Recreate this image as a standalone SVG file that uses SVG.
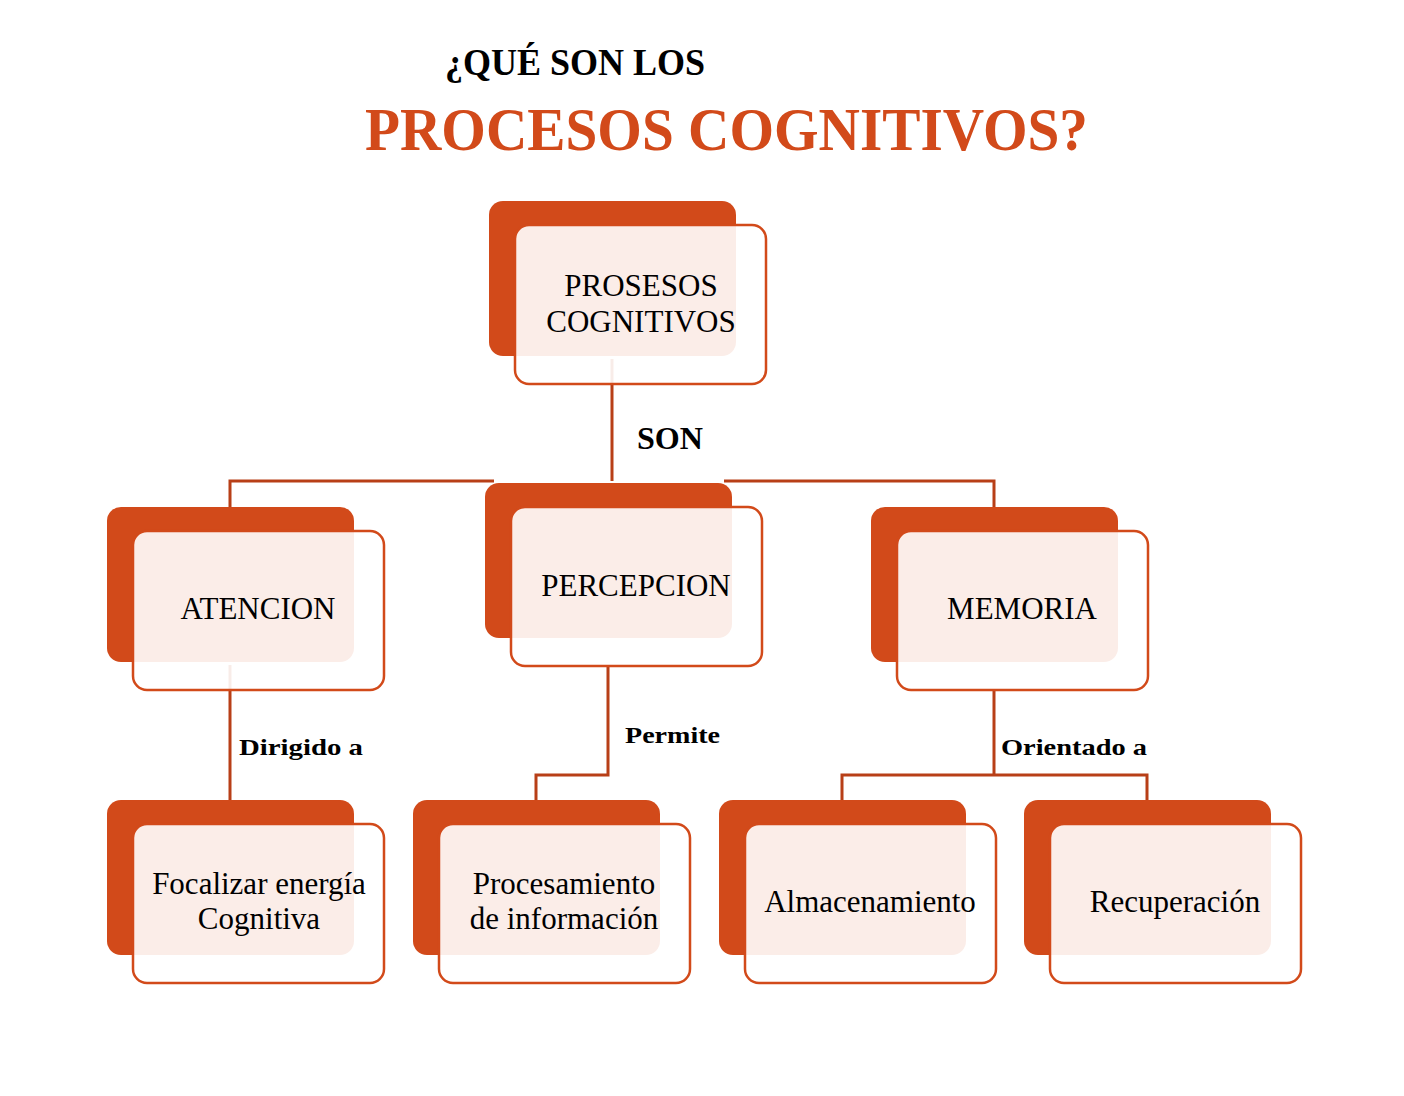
<svg xmlns="http://www.w3.org/2000/svg" width="1404" height="1096" viewBox="0 0 1404 1096">
<style>
.back{fill:#D24A1A}
.front{fill:#FFFFFF;fill-opacity:0.9;stroke:#D24A1A;stroke-width:2.5}
.conn{fill:none;stroke:#B83F17;stroke-width:3}
.lbl{font-family:"Liberation Serif","Times New Roman",serif;font-size:31px;fill:#000;text-anchor:middle}
.clbl{font-family:"Liberation Serif","Times New Roman",serif;font-size:24px;font-weight:bold;fill:#000}
.son{font-size:31px}
</style>
<rect width="1404" height="1096" fill="#FFFFFF"/>
<g id="title">
<text x="445" y="75" font-family="Liberation Serif, serif" font-size="38" font-weight="bold" fill="#000" textLength="260" lengthAdjust="spacingAndGlyphs">¿QUÉ SON LOS</text>
<text x="365" y="150" font-family="Liberation Serif, serif" font-size="62" font-weight="bold" fill="#D24A1A" textLength="723" lengthAdjust="spacingAndGlyphs">PROCESOS COGNITIVOS?</text>
</g>
<g id="connectors">
<line class="conn" x1="612" y1="359" x2="612" y2="481"/>
<polyline class="conn" points="230,507 230,481 494,481"/>
<polyline class="conn" points="724,481 994,481 994,507"/>
<line class="conn" x1="230" y1="665" x2="230" y2="800"/>
<polyline class="conn" points="608,667 608,775 536,775 536,800"/>
<line class="conn" x1="994" y1="691" x2="994" y2="775"/>
<polyline class="conn" points="842,800 842,775 1147,775 1147,800"/>
<text class="clbl son" x="637" y="449" textLength="66" lengthAdjust="spacingAndGlyphs">SON</text>
<text class="clbl" x="239" y="755" textLength="124" lengthAdjust="spacingAndGlyphs">Dirigido a</text>
<text class="clbl" x="625" y="743" textLength="95" lengthAdjust="spacingAndGlyphs">Permite</text>
<text class="clbl" x="1001" y="755" textLength="146" lengthAdjust="spacingAndGlyphs">Orientado a</text>
</g>
<g id="node-root">
<rect class="back" x="489" y="201" width="247" height="155" rx="14"/>
<rect class="front" x="515" y="225" width="251" height="159" rx="14"/>
<text class="lbl" x="641" y="296">PROSESOS</text>
<text class="lbl" x="641" y="332">COGNITIVOS</text>
</g>
<g id="node-atencion">
<rect class="back" x="107" y="507" width="247" height="155" rx="14"/>
<rect class="front" x="133" y="531" width="251" height="159" rx="14"/>
<text class="lbl" x="258" y="619">ATENCION</text>
</g>
<g id="node-percepcion">
<rect class="back" x="485" y="483" width="247" height="155" rx="14"/>
<rect class="front" x="511" y="507" width="251" height="159" rx="14"/>
<text class="lbl" x="636" y="596">PERCEPCION</text>
</g>
<g id="node-memoria">
<rect class="back" x="871" y="507" width="247" height="155" rx="14"/>
<rect class="front" x="897" y="531" width="251" height="159" rx="14"/>
<text class="lbl" x="1022" y="619">MEMORIA</text>
</g>
<g id="node-focalizar">
<rect class="back" x="107" y="800" width="247" height="155" rx="14"/>
<rect class="front" x="133" y="824" width="251" height="159" rx="14"/>
<text class="lbl" x="259" y="894">Focalizar energía</text>
<text class="lbl" x="259" y="929">Cognitiva</text>
</g>
<g id="node-procesamiento">
<rect class="back" x="413" y="800" width="247" height="155" rx="14"/>
<rect class="front" x="439" y="824" width="251" height="159" rx="14"/>
<text class="lbl" x="564" y="894">Procesamiento</text>
<text class="lbl" x="564" y="929">de información</text>
</g>
<g id="node-almacenamiento">
<rect class="back" x="719" y="800" width="247" height="155" rx="14"/>
<rect class="front" x="745" y="824" width="251" height="159" rx="14"/>
<text class="lbl" x="870" y="912">Almacenamiento</text>
</g>
<g id="node-recuperacion">
<rect class="back" x="1024" y="800" width="247" height="155" rx="14"/>
<rect class="front" x="1050" y="824" width="251" height="159" rx="14"/>
<text class="lbl" x="1175" y="912">Recuperación</text>
</g>
</svg>
